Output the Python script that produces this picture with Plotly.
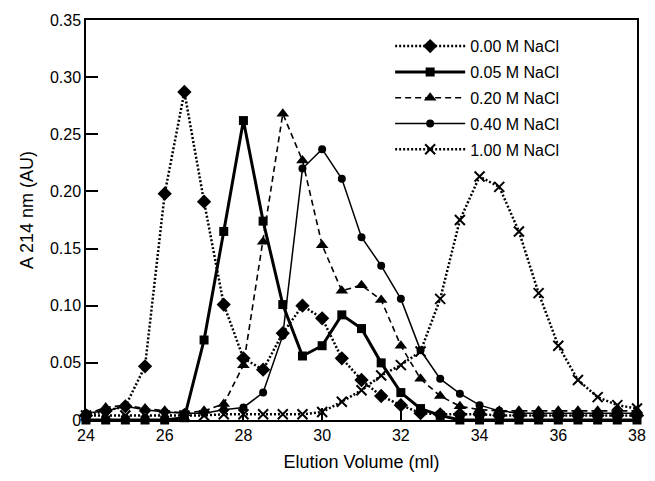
import plotly.graph_objects as go

volume = [24, 24.5, 25, 25.5, 26, 26.5, 27, 27.5, 28, 28.5, 29, 29.5, 30, 30.5, 31,
          31.5, 32, 32.5, 33, 33.5, 34, 34.5, 35, 35.5, 36, 36.5, 37, 37.5, 38]

nacl_000 = [0.004, 0.008, 0.012, 0.047, 0.198, 0.287, 0.191, 0.101, 0.054, 0.044,
            0.076, 0.100, 0.089, 0.054, 0.035, 0.021, 0.013, 0.006, 0.005, 0.005,
            0.005, 0.004, 0.004, 0.004, 0.004, 0.004, 0.004, 0.004, 0.004]
nacl_005 = [0.0, 0.0, 0.0, 0.0, 0.0, 0.002, 0.070, 0.165, 0.262, 0.174,
            0.101, 0.056, 0.065, 0.092, 0.080, 0.050, 0.024, 0.010, 0.004, 0.0,
            0.0, 0.0, 0.0, 0.0, 0.0, 0.0, 0.0, 0.0, 0.0]
nacl_020 = [0.005, 0.011, 0.013, 0.010, 0.008, 0.006, 0.008, 0.014, 0.048, 0.156,
            0.268, 0.227, 0.153, 0.113, 0.118, 0.105, 0.065, 0.036, 0.021, 0.012,
            0.009, 0.008, 0.008, 0.008, 0.008, 0.008, 0.008, 0.008, 0.008]
nacl_040 = [0.006, 0.008, 0.012, 0.009, 0.007, 0.006, 0.006, 0.009, 0.011, 0.024,
            0.074, 0.220, 0.237, 0.211, 0.160, 0.135, 0.106, 0.061, 0.036, 0.023,
            0.013, 0.008, 0.006, 0.006, 0.006, 0.006, 0.006, 0.006, 0.006]
nacl_100 = [0.004, 0.004, 0.004, 0.004, 0.004, 0.004, 0.004, 0.005, 0.005, 0.005,
            0.005, 0.005, 0.007, 0.016, 0.026, 0.039, 0.048, 0.060, 0.106, 0.175,
            0.213, 0.204, 0.165, 0.111, 0.065, 0.035, 0.020, 0.013, 0.010]

names = ["0.00 M NaCl", "0.05 M NaCl", "0.20 M NaCl", "0.40 M NaCl", "1.00 M NaCl"]

x_ticks = [24, 26, 28, 30, 32, 34, 36, 38]
y_ticks = [0, 0.05, 0.10, 0.15, 0.20, 0.25, 0.30, 0.35]
y_ticktext = ["0", "0.05", "0.10", "0.15", "0.20", "0.25", "0.30", "0.35"]

fig = go.Figure()

def add(y, name, rank, dash, lw, symbol, msize, mline=0):
    fig.add_trace(go.Scatter(
        x=volume, y=y, name=name, mode="lines+markers",
        line=dict(color="black", width=lw, dash=dash),
        marker=dict(symbol=symbol, size=msize, color="black",
                    line=dict(color="black", width=mline)),
        cliponaxis=False, legendrank=rank, legendgroup=name,
    ))

# drawing order (bottom to top)
add(nacl_100, names[4], 5, "2px,2px", 2.5, "x-thin", 10, 2)
add(nacl_000, names[0], 1, "2px,2px", 2.5, "diamond", 11)
add(nacl_020, names[2], 3, "6px,4px", 1.6, "triangle-up", 11)
add(nacl_040, names[3], 4, "solid", 1.5, "circle", 8)
add(nacl_005, names[1], 2, "solid", 3, "square", 9)

FAM = "Liberation Sans, Arial, sans-serif"
axis_font = dict(family=FAM, size=16, color="black")
title_font = dict(family=FAM, size=18, color="black")

fig.update_layout(
    width=655, height=481,
    margin=dict(l=86, r=9, t=20, b=61),
    paper_bgcolor="white", plot_bgcolor="white",
    font=dict(family=FAM, color="black"),
    showlegend=True,
    legend=dict(
        x=0.552, y=0.977, xanchor="left", yanchor="top",
        bgcolor="rgba(0,0,0,0)", borderwidth=0,
        font=dict(family=FAM, size=16, color="black"),
        itemwidth=70, tracegroupgap=2, traceorder="grouped",
    ),
    xaxis=dict(
        range=[24, 38], tickvals=x_ticks, ticktext=[str(v) for v in x_ticks],
        showgrid=False, zeroline=False, showline=True, linecolor="black",
        linewidth=1.5, mirror=True, ticks="inside", ticklen=12, tickwidth=1.5,
        tickcolor="black", tickfont=axis_font,
        title=dict(text="Elution Volume (ml)", font=title_font, standoff=12),
    ),
    yaxis=dict(
        range=[0, 0.35], tickvals=y_ticks, ticktext=y_ticktext,
        showgrid=False, zeroline=False, showline=True, linecolor="black",
        linewidth=1.5, mirror=True, ticks="inside", ticklen=12, tickwidth=1.5,
        tickcolor="black", tickfont=axis_font,
    ),
    annotations=[dict(
        text="A 214 nm (AU)", textangle=-90, font=title_font,
        xref="paper", yref="paper", x=-0.1072, y=0.525,
        xanchor="center", yanchor="middle", showarrow=False,
    )],
)

fig.write_html("out.html")
